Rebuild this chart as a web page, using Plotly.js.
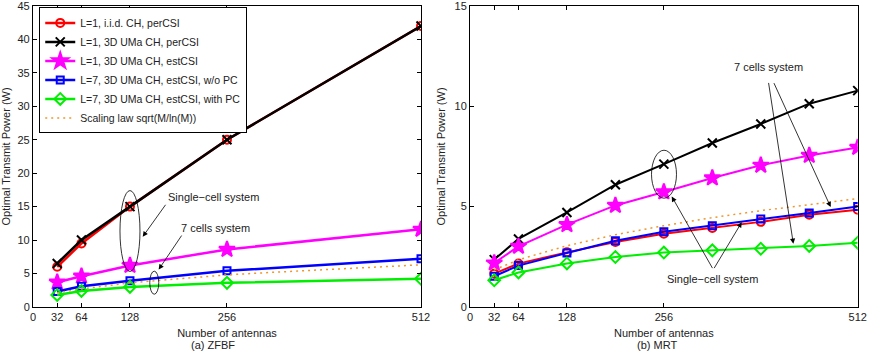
<!DOCTYPE html>
<html>
<head>
<meta charset="utf-8">
<script src="https://cdn.plot.ly/plotly-3.0.1.min.js"></script>
<style>
  body { margin: 0; background: #fff; }
  #chart { width: 872px; height: 352px; }
</style>
</head>
<body>
<div id="chart"></div>
<script>
// antennas
const antennasZF = [32, 64, 128, 256, 512]
const antennasMRT = [32, 64, 128, 192, 256, 320, 384, 448, 512]

// (a) ZFBF
const zfIid = [6.0, 9.5, 15.0, 25.0, 42.0]
const zfUmaPer = [6.5, 10.0, 15.0, 25.0, 42.0]
const zfUmaEst = [3.7, 4.6, 6.2, 8.6, 11.6]
const zfCellsNoPC = [2.3, 3.1, 3.9, 5.4, 7.2]
const zfCellsPC = [1.8, 2.4, 3.0, 3.6, 4.2]
const zfScaling = [2.1, 2.7, 3.6, 4.2, 4.8, 5.2, 5.6, 6.0, 6.3]

// (b) MRT
const mrtIid = [1.66, 2.16, 2.72, 3.24, 3.65, 3.94, 4.24, 4.60, 4.85]
const mrtUmaPer = [2.36, 3.39, 4.71, 6.09, 7.12, 8.17, 9.12, 10.13, 10.78]
const mrtUmaEst = [2.19, 3.02, 4.10, 5.06, 5.73, 6.43, 7.06, 7.55, 7.95]
const mrtCellsNoPC = [1.53, 2.06, 2.69, 3.30, 3.75, 4.05, 4.38, 4.68, 5.01]
const mrtCellsPC = [1.33, 1.72, 2.17, 2.49, 2.71, 2.82, 2.90, 3.04, 3.20]
const mrtScaling = [1.85, 2.35, 3.05, 3.6, 4.05, 4.45, 4.8, 5.1, 5.4]

const names = [
    'L=1, i.i.d. CH, perCSI',
    'L=1, 3D UMa CH, perCSI',
    'L=1, 3D UMa CH, estCSI',
    'L=7, 3D UMa CH, estCSI, w/o PC',
    'L=7, 3D UMa CH, estCSI, with PC',
    'Scaling law sqrt(M/ln(M))'
]
const xTicks = [0, 32, 64, 128, 256, 512]

const styles = [
    {color: '#ff0000', symbol: 'circle-open', size: 8},
    {color: '#000000', symbol: 'x-thin-open', size: 9},
    {color: '#ff00ff', symbol: 'star', size: 12},
    {color: '#0000ff', symbol: 'square-open', size: 7},
    {color: '#00ee00', symbol: 'diamond-open', size: 9}
]

const makeTraces = (x, series, scaling, xa, ya, lw, legend) => {
    let traces = []
    series.forEach((ys, i) => {
        const s = styles[i]
        traces.push({
            type: 'scatter', mode: 'lines+markers',
            x: x, y: ys, name: names[i], xaxis: xa, yaxis: ya,
            showlegend: legend,
            line: {color: s.color, width: lw},
            marker: {symbol: s.symbol, size: s.size, color: s.color,
                     line: {color: s.color, width: 2}}
        })
    })
    traces.push({
        type: 'scatter', mode: 'lines',
        x: antennasMRT, y: scaling, name: names[5], xaxis: xa, yaxis: ya,
        showlegend: legend,
        line: {color: '#f0962c', width: 1.5, dash: '2px,4px'}
    })
    return traces
}

const data = makeTraces(antennasZF, [zfIid, zfUmaPer, zfUmaEst, zfCellsNoPC, zfCellsPC], zfScaling, 'x', 'y', 2.5, true)
    .concat(makeTraces(antennasMRT, [mrtIid, mrtUmaPer, mrtUmaEst, mrtCellsNoPC, mrtCellsPC], mrtScaling, 'x2', 'y2', 2, false))

const axisBase = {
    showline: true, linecolor: '#000', linewidth: 1, mirror: 'ticks',
    ticks: 'inside', ticklen: 4, tickcolor: '#000',
    showgrid: false, zeroline: false, ticklabeloverflow: 'allow',
    tickfont: {size: 11, color: '#222'}
}
const xaxisBase = Object.assign({}, axisBase, {
    range: [0, 512], tickmode: 'array', tickvals: xTicks,
    title: {text: 'Number of antennas', font: {size: 11, color: '#222'}, standoff: 7}
})

const txt = {size: 11, color: '#222'}
const arrow = (x, y, ax, ay, xr, yr) => ({
    x: x, y: y, ax: ax, ay: ay, xref: xr, yref: yr, axref: xr, ayref: yr,
    text: '', showarrow: true, arrowhead: 2, arrowsize: 1.3, arrowwidth: 0.8, arrowcolor: '#000'
})
const caption = (t, px) => ({
    text: t, x: px / 872, y: 1 - 345 / 352, xref: 'paper', yref: 'paper',
    xanchor: 'center', yanchor: 'middle', showarrow: false, font: txt
})

const layout = {
    width: 872, height: 352,
    margin: {l: 0, r: 0, t: 0, b: 0},
    paper_bgcolor: '#fff', plot_bgcolor: '#fff',
    font: {family: 'Liberation Sans, Arial, sans-serif', color: '#222'},
    xaxis: Object.assign({}, xaxisBase, {domain: [0.0378, 0.4828], anchor: 'y'}),
    yaxis: Object.assign({}, axisBase, {
        domain: [0.128, 0.983], range: [0, 45], dtick: 5, anchor: 'x',
        title: {text: 'Optimal Transmit Power (W)', font: {size: 11, color: '#222'}, standoff: 6}
    }),
    xaxis2: Object.assign({}, xaxisBase, {domain: [0.539, 0.9836], anchor: 'y2'}),
    yaxis2: Object.assign({}, axisBase, {
        domain: [0.128, 0.983], range: [0, 15], dtick: 5, anchor: 'x2',
        title: {text: 'Optimal Transmit Power (W)', font: {size: 11, color: '#222'}, standoff: 6}
    }),
    legend: {
        x: 0.045, y: 0.979, xanchor: 'left', yanchor: 'top',
        bgcolor: '#fff', bordercolor: '#000', borderwidth: 1,
        font: {size: 10.5, color: '#222'}, tracegroupgap: 0
    },
    shapes: [
        {type: 'circle', xref: 'x', yref: 'y', x0: 114.8, x1: 141.2, y0: 5.3, y1: 17.4, line: {color: '#000', width: 0.8}},
        {type: 'circle', xref: 'x', yref: 'y', x0: 154.1, x1: 166.0, y0: 1.9, y1: 5.35, line: {color: '#000', width: 0.8}},
        {type: 'circle', xref: 'x2', yref: 'y2', x0: 239.7, x1: 272.7, y0: 5.42, y1: 7.81, line: {color: '#000', width: 0.8}}
    ],
    annotations: [
        {text: 'Single\u2212cell system', x: 238.4, y: 16.4, xref: 'x', yref: 'y', showarrow: false, font: txt},
        arrow(144.8, 10.5, 176.4, 15.5, 'x', 'y'),
        {text: '7 cells system', x: 240.2, y: 11.8, xref: 'x', yref: 'y', showarrow: false, font: txt},
        arrow(165.9, 5.6, 197.5, 10.9, 'x', 'y'),
        {text: '7 cells system', x: 394, y: 11.94, xref: 'x2', yref: 'y2', showarrow: false, font: txt},
        arrow(427, 3.15, 394, 11.24, 'x2', 'y2'),
        arrow(476.3, 4.98, 400.5, 11.23, 'x2', 'y2'),
        {text: 'Single\u2212cell system', x: 320.5, y: 1.40, xref: 'x2', yref: 'y2', showarrow: false, font: txt},
        arrow(266.4, 5.51, 321.3, 1.86, 'x2', 'y2'),
        arrow(358.8, 4.22, 321.3, 1.86, 'x2', 'y2'),
        caption('(a) ZFBF', 213),
        caption('(b) MRT', 657)
    ]
}

Plotly.newPlot('chart', data, layout, {displayModeBar: false, staticPlot: true})
</script>
</body>
</html>
